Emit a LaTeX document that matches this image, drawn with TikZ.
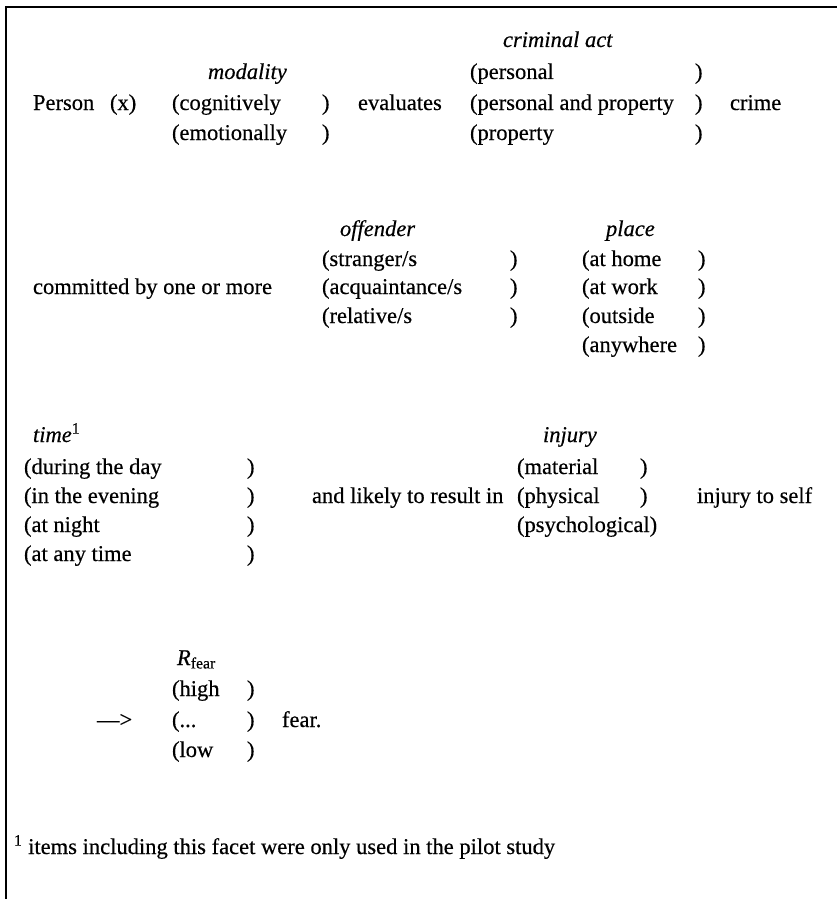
\documentclass[tikz,border=0pt]{standalone}
\usepackage{fontspec}
% slightly heavier ink, as in the printed original
\setmainfont{Liberation Serif}[FakeBold=0.4]
\begin{document}
\begin{tikzpicture}[x=0.75pt,y=-0.75pt,
  txt/.style={anchor=base west,inner sep=0pt,outer sep=0pt,font=\fontsize{16.9}{20}\selectfont},
  facet/.style={txt,font=\fontsize{16.9}{20}\selectfont\itshape},
  frameline/.style={line width=1.4pt,black}]
\useasboundingbox (0,0) rectangle (837,899);
% frame (top and left rules)
\coordinate (fbl) at (6,899);
\coordinate (ftl) at (6,7);
\coordinate (ftr) at (837,7);
\draw[frameline] (fbl) -- (ftl) -- (ftr);

% --- modality / criminal act ---
\node[facet] (actlab) at (503,47) {criminal act};
\node[facet] (modlab) at (208,79) {modality};
\node[txt] (act1) at (470,79) {(personal};
\node[txt] (act1r) at (695,79) {)};
\node[txt] (person) at (33,110) {Person};
\node[txt] (px) at (110,110) {(x)};
\node[txt] (mod1) at (172,110) {(cognitively};
\node[txt] (mod1r) at (322,110) {)};
\node[txt] (eval) at (358,110) {evaluates};
\node[txt] (act2) at (470,110) {(personal and property};
\node[txt] (act2r) at (695,110) {)};
\node[txt] (crime) at (730,110) {crime};
\node[txt] (mod2) at (172,140) {(emotionally};
\node[txt] (mod2r) at (322,140) {)};
\node[txt] (act3) at (470,140) {(property};
\node[txt] (act3r) at (695,140) {)};

% --- offender / place ---
\node[facet] (offlab) at (340,236) {offender};
\node[facet] (placelab) at (606,236) {place};
\node[txt] (off1) at (322,266) {(stranger/s};
\node[txt] (off1r) at (510,266) {)};
\node[txt] (pl1) at (582,266) {(at home};
\node[txt] (pl1r) at (698,266) {)};
\node[txt] (comm) at (33,294) {committed by one or more};
\node[txt] (off2) at (322,294) {(acquaintance/s};
\node[txt] (off2r) at (510,294) {)};
\node[txt] (pl2) at (582,294) {(at work};
\node[txt] (pl2r) at (698,294) {)};
\node[txt] (off3) at (322,323) {(relative/s};
\node[txt] (off3r) at (510,323) {)};
\node[txt] (pl3) at (582,323) {(outside};
\node[txt] (pl3r) at (698,323) {)};
\node[txt] (pl4) at (582,352) {(anywhere};
\node[txt] (pl4r) at (698,352) {)};

% --- time / injury ---
\node[facet] (timelab) at (33,442) {time\textsuperscript{\upshape 1}};
\node[facet] (injlab) at (543,442) {injury};
\node[txt] (tm1) at (24,474) {(during the day};
\node[txt] (tm1r) at (247,474) {)};
\node[txt] (inj1) at (517,474) {(material};
\node[txt] (inj1r) at (640,474) {)};
\node[txt] (tm2) at (24,503) {(in the evening};
\node[txt] (tm2r) at (247,503) {)};
\node[txt] (likely) at (312,503) {and likely to result in};
\node[txt] (inj2) at (517,503) {(physical};
\node[txt] (inj2r) at (640,503) {)};
\node[txt] (self) at (697,503) {injury to self};
\node[txt] (tm3) at (24,532) {(at night};
\node[txt] (tm3r) at (247,532) {)};
\node[txt] (inj3) at (517,532) {(psychological)};
\node[txt] (tm4) at (24,561) {(at any time};
\node[txt] (tm4r) at (247,561) {)};

% --- response range ---
\node[txt] (rlab) at (177,665) {\textit{R}\textsubscript{fear}};
\node[txt] (r1) at (172,696) {(high};
\node[txt] (r1r) at (247,696) {)};
\node[txt] (arrow) at (97,727) {—>};
\node[txt] (r2) at (172,727) {(...};
\node[txt] (r2r) at (247,727) {)};
\node[txt] (fear) at (282,727) {fear.};
\node[txt] (r3) at (172,757) {(low};
\node[txt] (r3r) at (247,757) {)};

% --- footnote ---
\node[txt] (foot) at (14,854) {\textsuperscript{1} items including this facet were only used in the pilot study};
\end{tikzpicture}
\end{document}
